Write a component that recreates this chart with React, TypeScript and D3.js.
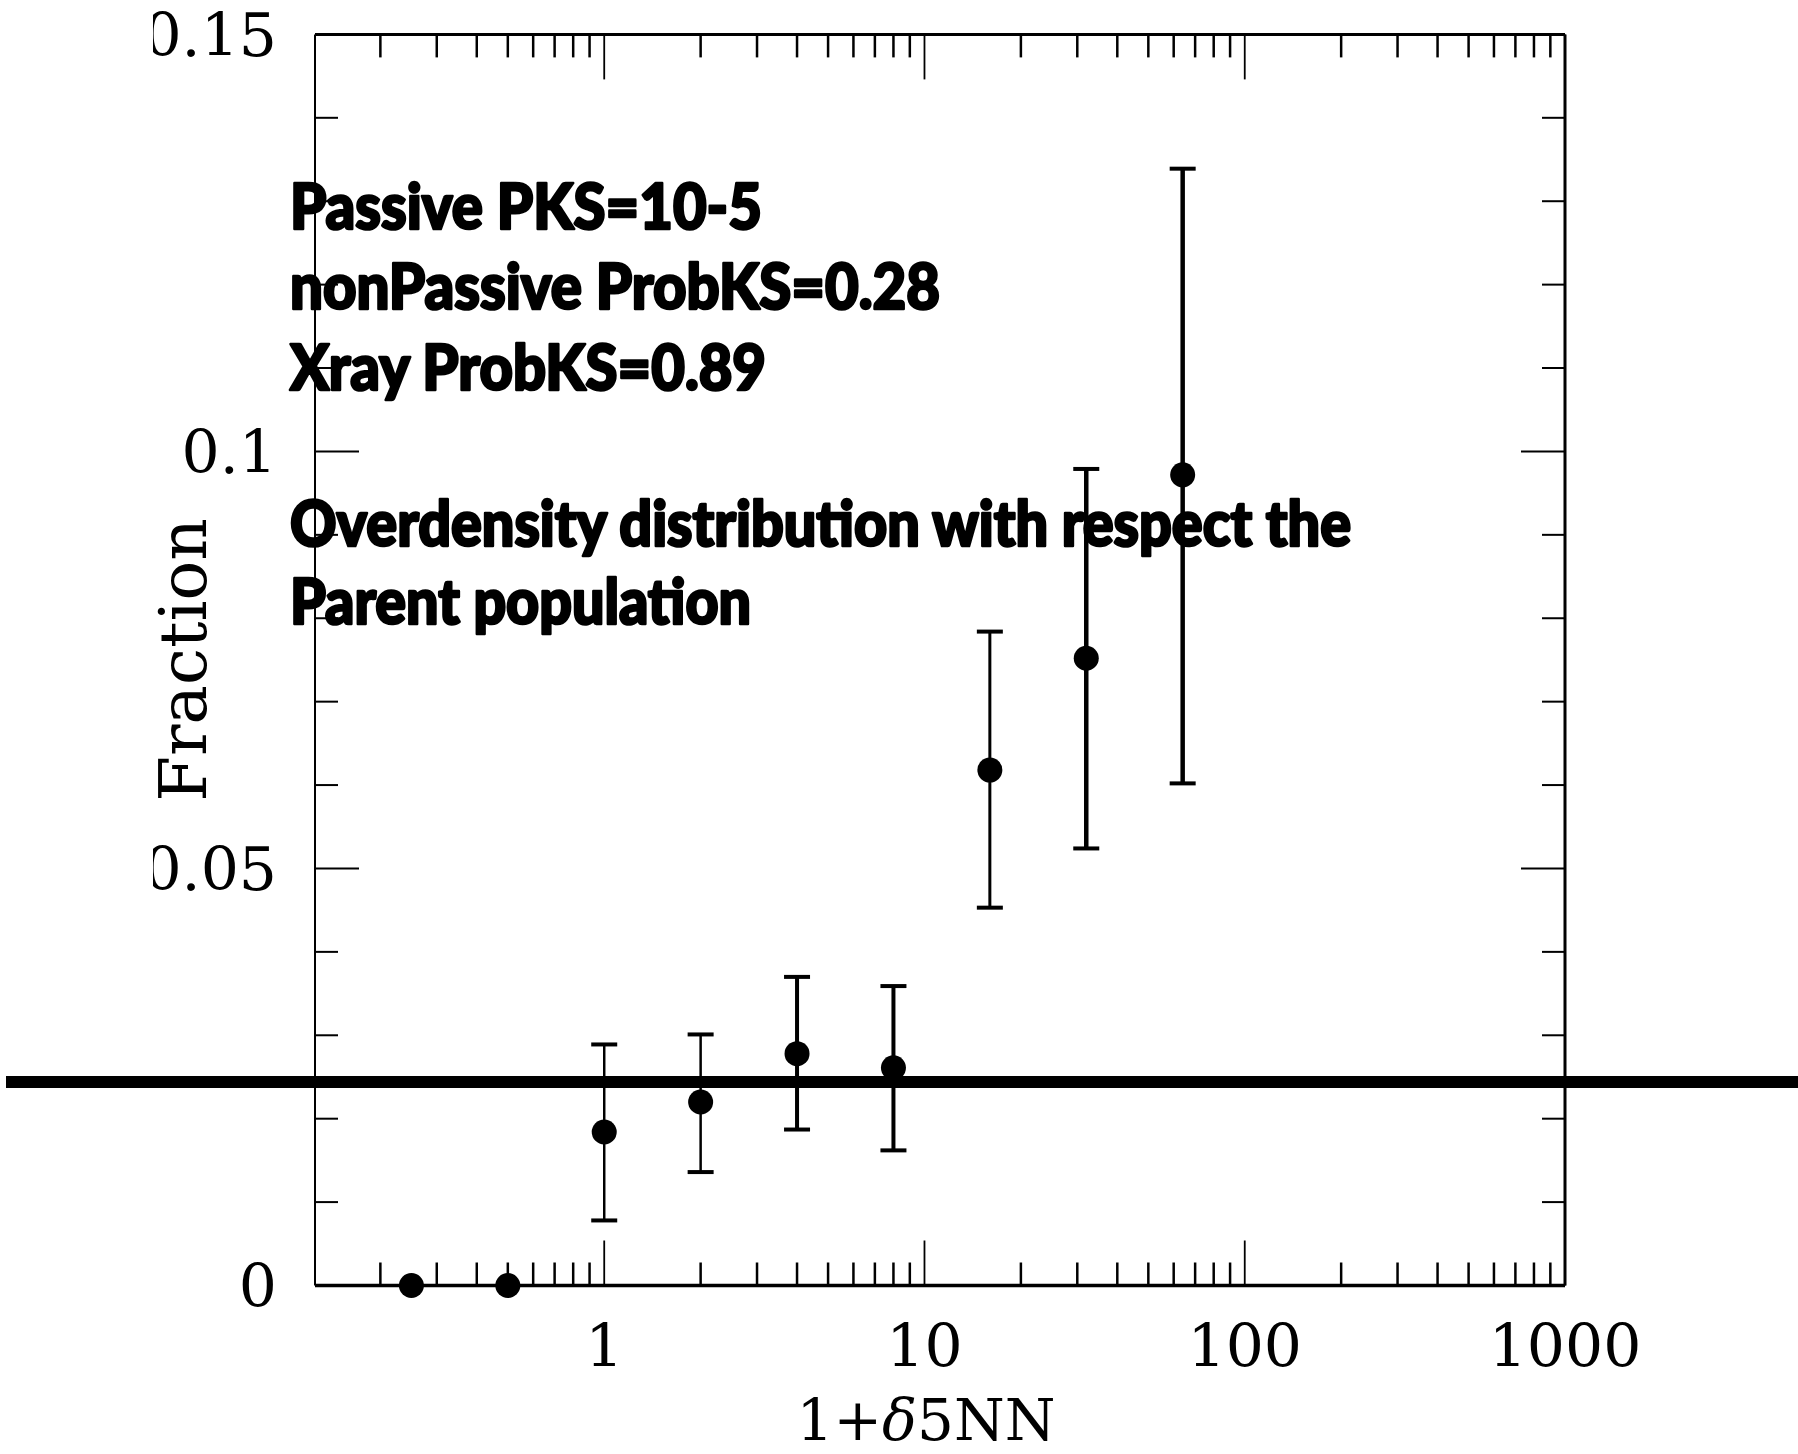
import React from "react";
import * as d3 from "d3";

// ---- data ----
const xValues = [0.25, 0.5, 1, 2, 4, 8, 16, 32, 64];
const fractionValues = [0, 0, 0.0184, 0.022, 0.0278, 0.0261, 0.0618, 0.0752, 0.0972];
const errLow = [null, null, 0.0078, 0.0136, 0.0187, 0.0162, 0.0453, 0.0524, 0.0602];
const errHigh = [null, null, 0.0289, 0.0301, 0.037, 0.0359, 0.0784, 0.0979, 0.1339];
const parentLevel = 0.0244;

const xMajorTicks = [1, 10, 100, 1000];
const xTickLabels = ["1", "10", "100", "1000"];
const yMajorTicks = [0, 0.05, 0.1, 0.15];
const yTickLabels = ["0", "0.05", "0.1", "0.15"];

const yTitle = "Fraction";
const annotationLines = [
  "Passive PKS=10-5",
  "nonPassive ProbKS=0.28",
  "Xray ProbKS=0.89",
  "Overdensity distribution with respect the",
  "Parent population",
];

// ---- styles (not data) ----
const barWeight = [0, 0, 2.5, 2.5, 4, 4, 3, 4.5, 4.5];
const annotationBaselines = [229, 309, 390, 546, 624];
const annotationWidths = [472, 650, 476, 1061, 461];

const W = 1798;
const H = 1454;
const L = 315;
const R = 1565;
const T = 34.4;
const B = 1285.5;

export default function App() {
  const x = d3.scaleLog().domain([0.125, 1000]).range([L, R]);
  const y = d3.scaleLinear().domain([0, 0.15]).range([B, T]);

  const xMinor: number[] = [];
  for (const dec of [0.1, 1, 10, 100]) {
    for (let k = 2; k <= 9; k++) {
      const v = dec * k;
      if (v >= 0.125 && v <= 1000) xMinor.push(v);
    }
  }
  const yMinor = d3
    .range(0, 16)
    .map((i) => i * 0.01)
    .filter((v) => !yMajorTicks.some((m) => Math.abs(m - v) < 1e-9));

  const serif = "'DejaVu Serif', serif";

  return (
    <svg
      width={W}
      height={H}
      viewBox={`0 0 ${W} ${H}`}
      style={{ position: "absolute", left: 0, top: 0, background: "#fff" }}
    >
      <defs>
        <clipPath id="labelClip">
          <rect x={153} y={0} width={W} height={H} />
        </clipPath>
        <filter id="shadow" x="-5%" y="-200%" width="110%" height="500%">
          <feGaussianBlur stdDeviation="2.5" />
        </filter>
      </defs>
      <rect x={0} y={0} width={W} height={H} fill="#fff" />

      {/* frame */}
      <line x1={L} x2={R} y1={T} y2={T} stroke="#000" strokeWidth={3} />
      <line x1={L} x2={R} y1={B} y2={B} stroke="#000" strokeWidth={3.5} />
      <line x1={L} x2={L} y1={T} y2={B} stroke="#000" strokeWidth={2} />
      <line x1={R} x2={R} y1={T} y2={B} stroke="#000" strokeWidth={3} />

      {/* x ticks */}
      {xMinor.map((v, i) => (
        <g key={"xm" + i}>
          <line x1={x(v)} x2={x(v)} y1={B} y2={B - 23} stroke="#000" strokeWidth={2.5} />
          <line x1={x(v)} x2={x(v)} y1={T} y2={T + 23} stroke="#000" strokeWidth={2.5} />
        </g>
      ))}
      {xMajorTicks.map((v, i) => (
        <g key={"xM" + i}>
          <line x1={x(v)} x2={x(v)} y1={B} y2={B - 45} stroke="#000" strokeWidth={1.8} />
          <line x1={x(v)} x2={x(v)} y1={T} y2={T + 45} stroke="#000" strokeWidth={1.8} />
          <text x={x(v)} y={1367} textAnchor="middle" fontFamily={serif} fontSize={60} fill="#000">
            {xTickLabels[i]}
          </text>
        </g>
      ))}

      {/* y ticks */}
      {yMinor.map((v, i) => (
        <g key={"ym" + i}>
          <line x1={L} x2={L + 23} y1={y(v)} y2={y(v)} stroke="#000" strokeWidth={2} />
          <line x1={R} x2={R - 23} y1={y(v)} y2={y(v)} stroke="#000" strokeWidth={2} />
        </g>
      ))}
      <g clipPath="url(#labelClip)">
        {yMajorTicks.map((v, i) => (
          <g key={"yM" + i}>
            <line x1={L} x2={L + 44} y1={y(v)} y2={y(v)} stroke="#000" strokeWidth={2} />
            <line x1={R} x2={R - 44} y1={y(v)} y2={y(v)} stroke="#000" strokeWidth={2} />
            <text
              x={277}
              y={y(v)}
              dy="0.36em"
              textAnchor="end"
              fontFamily={serif}
              fontSize={60}
              fill="#000"
            >
              {yTickLabels[i]}
            </text>
          </g>
        ))}
      </g>

      {/* axis titles */}
      <text x={926} y={1440} textAnchor="middle" fontFamily={serif} fontSize={58} fill="#000">
        1+<tspan fontStyle="italic">δ</tspan>5NN
      </text>
      <text
        transform={`translate(206, 660) rotate(-90)`}
        textAnchor="middle"
        fontFamily={serif}
        fontSize={66}
        fill="#000"
      >
        {yTitle}
      </text>

      {/* error bars and points */}
      {xValues.map((xv, i) => {
        const lo = errLow[i];
        const hi = errHigh[i];
        const cx = x(xv);
        return (
          <g key={"p" + i}>
            {lo !== null && hi !== null && (
              <g stroke="#000">
                <line x1={cx} x2={cx} y1={y(lo)} y2={y(hi)} strokeWidth={barWeight[i]} />
                <line x1={cx - 13} x2={cx + 13} y1={y(lo)} y2={y(lo)} strokeWidth={4} />
                <line x1={cx - 13} x2={cx + 13} y1={y(hi)} y2={y(hi)} strokeWidth={4} />
              </g>
            )}
            <circle cx={cx} cy={y(fractionValues[i])} r={12.5} fill="#000" />
          </g>
        );
      })}

      {/* parent population level */}
      <line
        x1={6}
        x2={W}
        y1={y(parentLevel) + 7}
        y2={y(parentLevel) + 7}
        stroke="#999"
        strokeWidth={5}
        filter="url(#shadow)"
        opacity={0.6}
      />
      <line x1={6} x2={W} y1={y(parentLevel)} y2={y(parentLevel)} stroke="#000" strokeWidth={12} />

      {/* annotation text */}
      {annotationLines.map((t, i) => (
        <text
          key={"a" + i}
          x={290}
          y={annotationBaselines[i]}
          fontFamily="Lato, 'Open Sans', sans-serif"
          fontWeight={900}
          fontSize={62}
          textLength={annotationWidths[i]}
          lengthAdjust="spacingAndGlyphs"
          fill="#000"
          stroke="#000"
          strokeWidth={2.6}
          strokeLinejoin="round"
        >
          {t}
        </text>
      ))}
    </svg>
  );
}
